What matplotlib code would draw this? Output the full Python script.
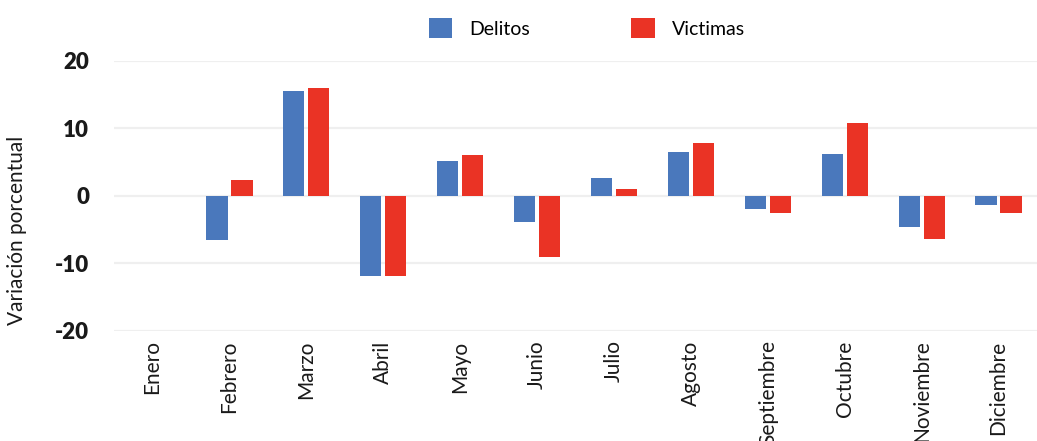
import matplotlib
matplotlib.use("Agg")
import matplotlib.pyplot as plt
import numpy as np

# data
meses = ["Enero", "Febrero", "Marzo", "Abril", "Mayo", "Junio", "Julio",
         "Agosto", "Septiembre", "Octubre", "Noviembre", "Diciembre"]
delitos = [np.nan, -6.6, 15.5, -11.9, 5.1, -3.9, 2.6, 6.5, -2.0, 6.2, -4.6, -1.4]
victimas = [np.nan, 2.3, 16.0, -11.9, 6.0, -9.1, 1.0, 7.8, -2.6, 10.8, -6.4, -2.6]
y_ticks = [-20, -10, 0, 10, 20]

plt.rcParams["font.family"] = ["Lato", "DejaVu Sans"]

fig = plt.figure(figsize=(10.37, 4.41), dpi=100)
ax = fig.add_axes([0.110, 0.250, 0.890, 0.612])

x = np.arange(len(meses))
w = 0.275
gap = 0.05
ax.bar(x - (w + gap) / 2, delitos, width=w, color="#4A78BC", label="Delitos", zorder=3)
ax.bar(x + (w + gap) / 2, victimas, width=w, color="#EA3325", label="Victimas", zorder=3)

ax.set_xlim(-0.5, len(meses) - 0.5)
ax.set_ylim(-20, 20)
ax.set_yticks(y_ticks)
ax.set_yticklabels([str(v) for v in y_ticks], fontsize=16, fontweight="heavy", color="#1a1a1a")
ax.set_xticks(x)
ax.set_xticklabels(meses, rotation=90, fontsize=15, color="#1a1a1a", va="top")
ax.tick_params(axis="both", length=0)
ax.tick_params(axis="y", pad=18)
ax.tick_params(axis="x", pad=7)

ax.grid(axis="y", color="#EFEFEF", linewidth=1.6, zorder=0)
for s in ax.spines.values():
    s.set_visible(False)

# the label sits lower than the axes centre in the original
ax.set_ylabel("Variación porcentual", fontsize=15, color="#1a1a1a")
ax.yaxis.set_label_coords(-0.094, 0.373)

fig.legend(loc="center", bbox_to_anchor=(0.566, 0.936), ncol=2, frameon=False,
           fontsize=14, handlelength=1.2, handleheight=1.2, handletextpad=0.9,
           columnspacing=5.2)

fig.savefig("out.png", dpi=100)
